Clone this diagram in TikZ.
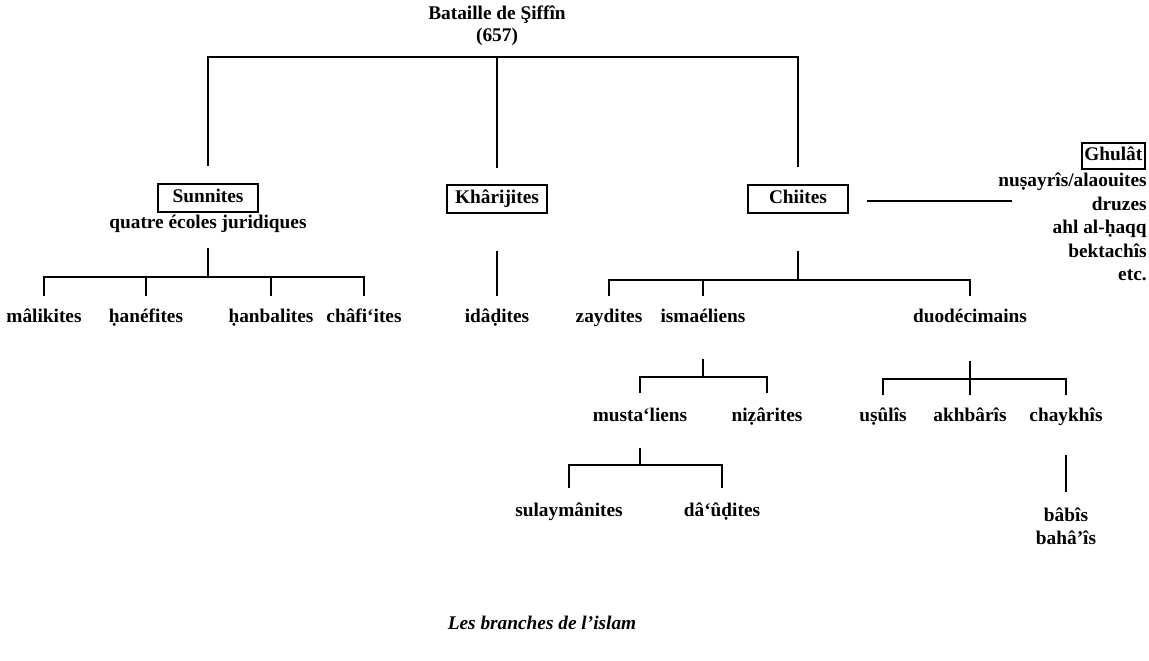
\documentclass[tikz,border=0pt]{standalone}
\usepackage{fontspec}
\setmainfont{Liberation Serif}

\tikzset{
    lbl/.style = {inner sep = 1pt, text height = 8pt, text depth = 2.5pt},
    boxed/.style = {lbl, draw, line width = 1.2pt, inner xsep = 4pt, inner ysep = 2.6pt, minimum width = 57pt},
    branch/.style = {line width = 1.1pt}
}

\begin{document}
\begin{tikzpicture}[x = 0.02cm, y = -0.02cm, font = \fontsize{11}{13}\selectfont\bfseries]
        \useasboundingbox (0, 0) rectangle (1149, 660);
        \node (bataille) at (497, 15) [lbl] {Bataille de Şiffîn};
        \node (annee) at (497, 37) [lbl] {(657)};
        \node (sunnites) at (208, 198) [boxed] {Sunnites};
        \node (ecoles) at (208, 224) [lbl] {quatre écoles juridiques};
        \node (kharijites) at (497, 199) [boxed] {Khârijites};
        \node (chiites) at (798, 199) [boxed] {Chiites};
        \node (ghulat) at (1146, 156) [boxed, anchor = east, minimum width = 0pt, inner xsep = 1.5pt, inner ysep = 2pt] {Ghulât};
        \node (sectes) at (1147, 173) [anchor = north east, align = right, inner sep = 0pt, font = \fontsize{11}{13.3}\selectfont\bfseries] {nuṣayrîs/alaouites\\druzes\\ahl al-ḥaqq\\bektachîs\\etc.};
        \node (malikites) at (44, 318) [lbl] {mâlikites};
        \node (hanefites) at (146, 318) [lbl] {ḥanéfites};
        \node (hanbalites) at (271, 318) [lbl] {ḥanbalites};
        \node (chafiites) at (364, 318) [lbl] {châfi‘ites};
        \node (idadites) at (497, 318) [lbl] {idâḍites};
        \node (zaydites) at (609, 318) [lbl] {zaydites};
        \node (ismaeliens) at (703, 318) [lbl] {ismaéliens};
        \node (duodecimains) at (970, 318) [lbl] {duodécimains};
        \node (mustaliens) at (640, 417) [lbl] {musta‘liens};
        \node (nizarites) at (767, 417) [lbl] {niẓârites};
        \node (usulis) at (883, 417) [lbl] {uṣûlîs};
        \node (akhbaris) at (970, 417) [lbl] {akhbârîs};
        \node (chaykhis) at (1066, 417) [lbl] {chaykhîs};
        \node (sulaymanites) at (569, 512) [lbl] {sulaymânites};
        \node (daudites) at (722, 512) [lbl] {dâ‘ûḍites};
        \node (babis) at (1066, 517) [lbl] {bâbîs};
        \node (bahais) at (1066, 540) [lbl] {bahâ’îs};
        \node (legende) at (542, 625) [lbl, font = \fontsize{11}{13}\selectfont\bfseries\itshape] {Les branches de l’islam};

        \coordinate (racine) at (497, 57);
        \coordinate (sunJ) at (208, 277);
        \coordinate (chiJ) at (798, 280);
        \coordinate (isJ) at (703, 377);
        \coordinate (muJ) at (640, 465);
        \coordinate (duJ) at (970, 379);
        \coordinate (ghJ) at (1012, 201);

        \draw[branch] ([yshift = 10pt]sunnites.north) |- (racine) -| ([yshift = 10pt]chiites.north);
        \draw[branch] (racine) -- ([yshift = 9pt]kharijites.north);

        \draw[branch] ([yshift = -7pt]ecoles.south) -- (sunJ);
        \draw[branch] ([yshift = 6pt]malikites.north) |- (sunJ) -| ([yshift = 6pt]chafiites.north);
        \foreach \n in {hanefites, hanbalites}
            \draw[branch] ([yshift = 6pt]\n.north) -- (\n |- sunJ);

        \draw[branch] ([yshift = -21pt]kharijites.south) -- ([yshift = 6pt]idadites.north);

        \draw[branch] ([yshift = -21pt]chiites.south) -- (chiJ);
        \draw[branch] ([yshift = 6pt]zaydites.north) |- (chiJ) -| ([yshift = 6pt]duodecimains.north);
        \draw[branch] ([yshift = 6pt]ismaeliens.north) -- (ismaeliens |- chiJ);
        \draw[branch] ([xshift = 10pt]chiites.east |- ghJ) -- (ghJ);

        \draw[branch] ([yshift = -17pt]ismaeliens.south) -- (isJ);
        \draw[branch] ([yshift = 7pt]mustaliens.north) |- (isJ) -| ([yshift = 7pt]nizarites.north);

        \draw[branch] ([yshift = -11pt]mustaliens.south) -- (muJ);
        \draw[branch] ([yshift = 7pt]sulaymanites.north) |- (muJ) -| ([yshift = 7pt]daudites.north);

        \draw[branch] ([yshift = -18pt]duodecimains.south) -- ([yshift = 6pt]akhbaris.north);
        \draw[branch] ([yshift = 6pt]usulis.north) |- (duJ) -| ([yshift = 6pt]chaykhis.north);

        \draw[branch] ([yshift = -15pt]chaykhis.south) -- ([yshift = 8pt]babis.north);
\end{tikzpicture}
\end{document}
